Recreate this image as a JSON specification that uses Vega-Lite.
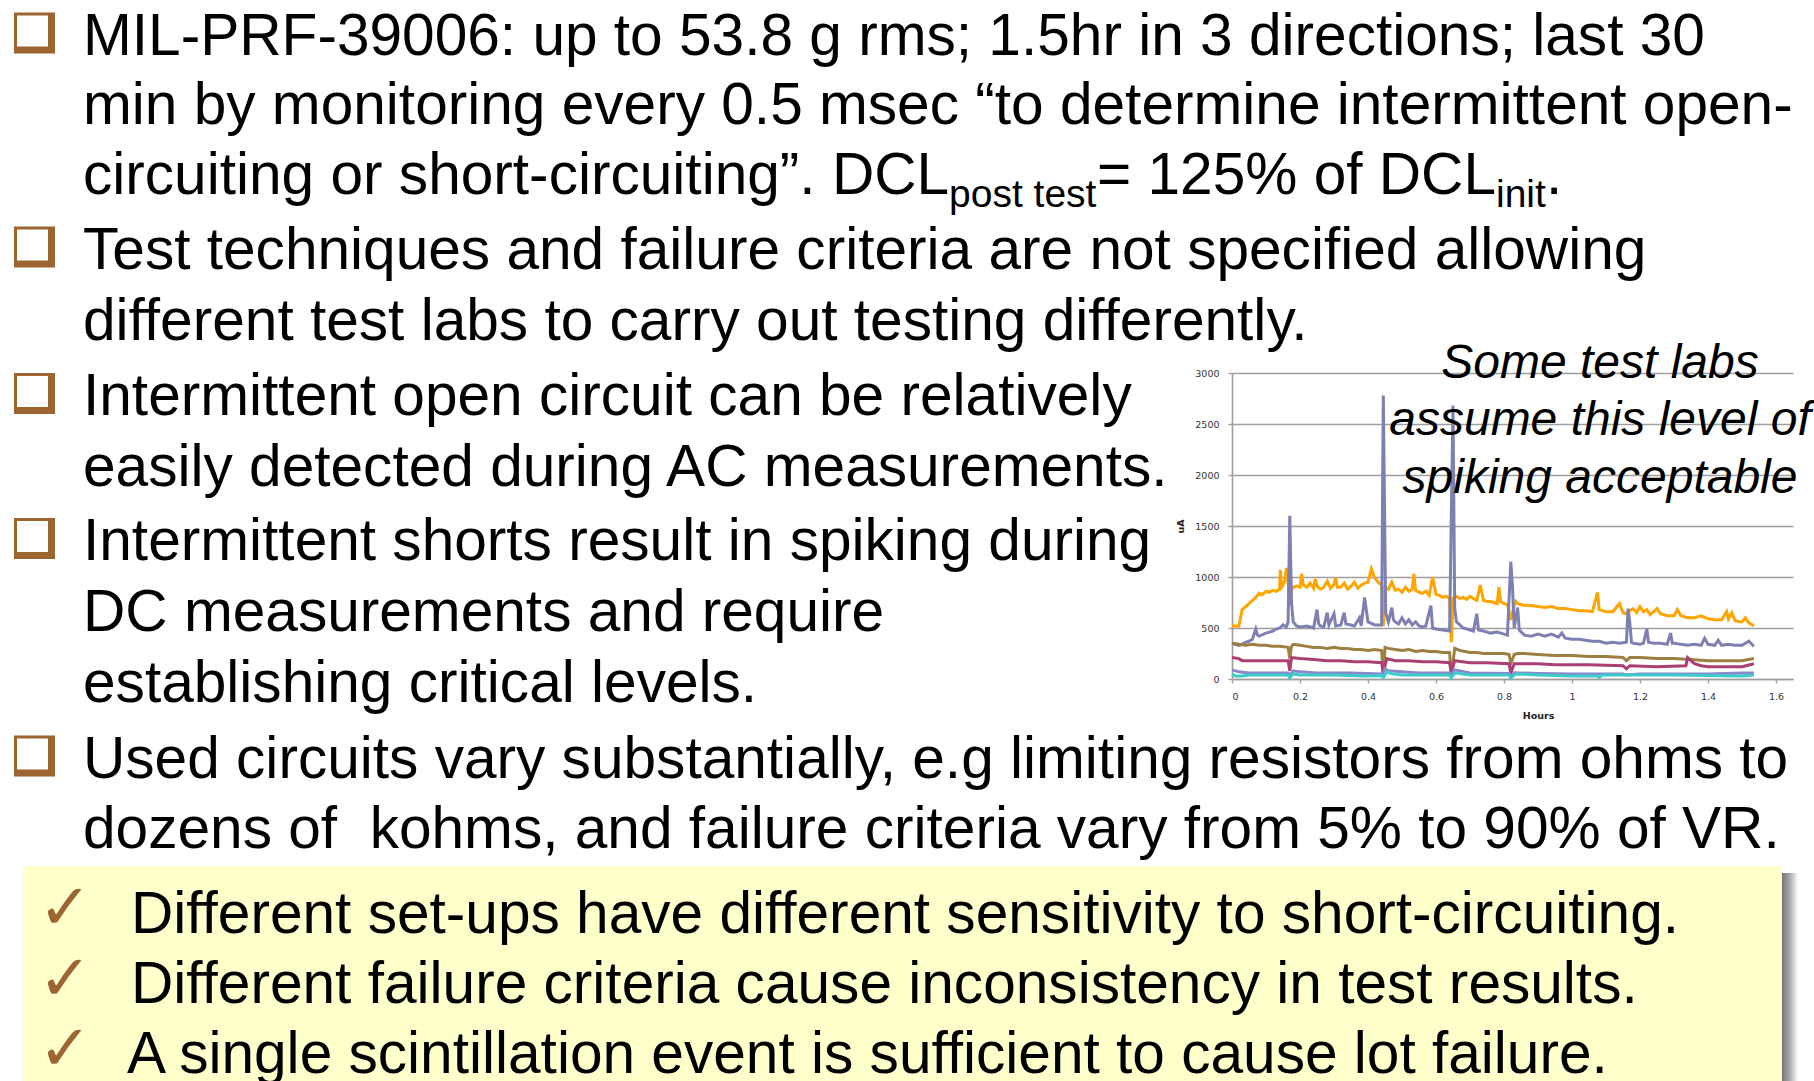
{
  "$schema": "https://vega.github.io/schema/vega-lite/v6.json",
  "width": 561,
  "height": 306,
  "autosize": {"type": "none"},
  "padding": {"left": 1232, "top": 373, "right": 21, "bottom": 402},
  "background": "white",
  "config": {"view": {"stroke": null}},
  "datasets": {
    "one": [{}],
    "series": [
      {"s":"o","h":0,"v":520},{"s":"o","h":0.02,"v":520},{"s":"o","h":0.025,"v":600},{"s":"o","h":0.03,"v":680},{"s":"o","h":0.04,"v":710},{"s":"o","h":0.05,"v":740},{"s":"o","h":0.06,"v":770},{"s":"o","h":0.07,"v":800},{"s":"o","h":0.08,"v":840},{"s":"o","h":0.09,"v":830},{"s":"o","h":0.1,"v":860},{"s":"o","h":0.11,"v":850},{"s":"o","h":0.12,"v":870},{"s":"o","h":0.13,"v":860},{"s":"o","h":0.14,"v":880},{"s":"o","h":0.142,"v":1070},{"s":"o","h":0.146,"v":900},{"s":"o","h":0.15,"v":920},{"s":"o","h":0.155,"v":960},{"s":"o","h":0.16,"v":1090},{"s":"o","h":0.165,"v":960},{"s":"o","h":0.17,"v":720},{"s":"o","h":0.175,"v":880},{"s":"o","h":0.18,"v":900},{"s":"o","h":0.19,"v":910},{"s":"o","h":0.2,"v":900},{"s":"o","h":0.205,"v":1030},{"s":"o","h":0.21,"v":920},{"s":"o","h":0.22,"v":900},{"s":"o","h":0.23,"v":940},{"s":"o","h":0.24,"v":890},{"s":"o","h":0.245,"v":980},{"s":"o","h":0.25,"v":910},{"s":"o","h":0.26,"v":880},{"s":"o","h":0.27,"v":900},{"s":"o","h":0.28,"v":960},{"s":"o","h":0.29,"v":890},{"s":"o","h":0.3,"v":930},{"s":"o","h":0.305,"v":990},{"s":"o","h":0.31,"v":900},{"s":"o","h":0.32,"v":900},{"s":"o","h":0.33,"v":940},{"s":"o","h":0.34,"v":880},{"s":"o","h":0.35,"v":910},{"s":"o","h":0.36,"v":950},{"s":"o","h":0.37,"v":890},{"s":"o","h":0.38,"v":920},{"s":"o","h":0.39,"v":940},{"s":"o","h":0.4,"v":950},{"s":"o","h":0.41,"v":1080},{"s":"o","h":0.42,"v":990},{"s":"o","h":0.43,"v":950},{"s":"o","h":0.44,"v":920},{"s":"o","h":0.445,"v":520},{"s":"o","h":0.45,"v":900},{"s":"o","h":0.46,"v":880},{"s":"o","h":0.47,"v":950},{"s":"o","h":0.48,"v":870},{"s":"o","h":0.49,"v":880},{"s":"o","h":0.5,"v":850},{"s":"o","h":0.51,"v":900},{"s":"o","h":0.52,"v":860},{"s":"o","h":0.53,"v":880},{"s":"o","h":0.535,"v":1030},{"s":"o","h":0.54,"v":870},{"s":"o","h":0.55,"v":850},{"s":"o","h":0.56,"v":840},{"s":"o","h":0.57,"v":860},{"s":"o","h":0.58,"v":820},{"s":"o","h":0.59,"v":1000},{"s":"o","h":0.6,"v":830},{"s":"o","h":0.61,"v":820},{"s":"o","h":0.62,"v":800},{"s":"o","h":0.63,"v":810},{"s":"o","h":0.64,"v":790},{"s":"o","h":0.645,"v":360},{"s":"o","h":0.65,"v":790},{"s":"o","h":0.66,"v":810},{"s":"o","h":0.67,"v":790},{"s":"o","h":0.68,"v":800},{"s":"o","h":0.69,"v":780},{"s":"o","h":0.7,"v":810},{"s":"o","h":0.71,"v":790},{"s":"o","h":0.72,"v":770},{"s":"o","h":0.73,"v":920},{"s":"o","h":0.74,"v":770},{"s":"o","h":0.75,"v":760},{"s":"o","h":0.76,"v":760},{"s":"o","h":0.77,"v":750},{"s":"o","h":0.78,"v":740},{"s":"o","h":0.785,"v":900},{"s":"o","h":0.79,"v":760},{"s":"o","h":0.8,"v":740},{"s":"o","h":0.81,"v":730},{"s":"o","h":0.82,"v":580},{"s":"o","h":0.83,"v":720},{"s":"o","h":0.835,"v":760},{"s":"o","h":0.84,"v":740},{"s":"o","h":0.85,"v":730},{"s":"o","h":0.86,"v":720},{"s":"o","h":0.88,"v":720},{"s":"o","h":0.9,"v":710},{"s":"o","h":0.92,"v":700},{"s":"o","h":0.94,"v":710},{"s":"o","h":0.96,"v":690},{"s":"o","h":0.98,"v":690},{"s":"o","h":1.0,"v":680},{"s":"o","h":1.02,"v":670},{"s":"o","h":1.04,"v":670},{"s":"o","h":1.06,"v":660},{"s":"o","h":1.075,"v":850},{"s":"o","h":1.08,"v":680},{"s":"o","h":1.1,"v":660},{"s":"o","h":1.12,"v":660},{"s":"o","h":1.14,"v":740},{"s":"o","h":1.15,"v":650},{"s":"o","h":1.16,"v":640},{"s":"o","h":1.17,"v":670},{"s":"o","h":1.18,"v":690},{"s":"o","h":1.19,"v":650},{"s":"o","h":1.2,"v":710},{"s":"o","h":1.21,"v":660},{"s":"o","h":1.22,"v":680},{"s":"o","h":1.23,"v":630},{"s":"o","h":1.25,"v":690},{"s":"o","h":1.26,"v":640},{"s":"o","h":1.28,"v":620},{"s":"o","h":1.3,"v":620},{"s":"o","h":1.31,"v":680},{"s":"o","h":1.32,"v":620},{"s":"o","h":1.34,"v":600},{"s":"o","h":1.36,"v":600},{"s":"o","h":1.38,"v":620},{"s":"o","h":1.4,"v":590},{"s":"o","h":1.42,"v":580},{"s":"o","h":1.44,"v":580},{"s":"o","h":1.455,"v":660},{"s":"o","h":1.46,"v":590},{"s":"o","h":1.47,"v":650},{"s":"o","h":1.48,"v":570},{"s":"o","h":1.5,"v":560},{"s":"o","h":1.51,"v":600},{"s":"o","h":1.52,"v":550},{"s":"o","h":1.535,"v":520},
      {"s":"b","h":0,"v":350},{"s":"b","h":0.02,"v":330},{"s":"b","h":0.03,"v":340},{"s":"b","h":0.04,"v":360},{"s":"b","h":0.05,"v":370},{"s":"b","h":0.06,"v":390},{"s":"b","h":0.07,"v":490},{"s":"b","h":0.075,"v":430},{"s":"b","h":0.08,"v":420},{"s":"b","h":0.1,"v":450},{"s":"b","h":0.11,"v":460},{"s":"b","h":0.12,"v":470},{"s":"b","h":0.13,"v":490},{"s":"b","h":0.14,"v":500},{"s":"b","h":0.15,"v":530},{"s":"b","h":0.16,"v":510},{"s":"b","h":0.165,"v":560},{"s":"b","h":0.17,"v":1600},{"s":"b","h":0.175,"v":750},{"s":"b","h":0.18,"v":560},{"s":"b","h":0.19,"v":520},{"s":"b","h":0.2,"v":510},{"s":"b","h":0.22,"v":520},{"s":"b","h":0.24,"v":500},{"s":"b","h":0.25,"v":680},{"s":"b","h":0.255,"v":540},{"s":"b","h":0.26,"v":520},{"s":"b","h":0.27,"v":510},{"s":"b","h":0.28,"v":650},{"s":"b","h":0.285,"v":530},{"s":"b","h":0.3,"v":640},{"s":"b","h":0.305,"v":520},{"s":"b","h":0.32,"v":530},{"s":"b","h":0.33,"v":650},{"s":"b","h":0.335,"v":540},{"s":"b","h":0.35,"v":530},{"s":"b","h":0.36,"v":520},{"s":"b","h":0.375,"v":600},{"s":"b","h":0.38,"v":520},{"s":"b","h":0.39,"v":800},{"s":"b","h":0.4,"v":560},{"s":"b","h":0.42,"v":530},{"s":"b","h":0.44,"v":530},{"s":"b","h":0.445,"v":2780},{"s":"b","h":0.452,"v":650},{"s":"b","h":0.46,"v":560},{"s":"b","h":0.47,"v":700},{"s":"b","h":0.475,"v":580},{"s":"b","h":0.48,"v":560},{"s":"b","h":0.49,"v":540},{"s":"b","h":0.5,"v":600},{"s":"b","h":0.51,"v":540},{"s":"b","h":0.52,"v":580},{"s":"b","h":0.53,"v":530},{"s":"b","h":0.54,"v":560},{"s":"b","h":0.55,"v":520},{"s":"b","h":0.56,"v":510},{"s":"b","h":0.57,"v":520},{"s":"b","h":0.585,"v":720},{"s":"b","h":0.59,"v":500},{"s":"b","h":0.6,"v":490},{"s":"b","h":0.62,"v":480},{"s":"b","h":0.64,"v":470},{"s":"b","h":0.65,"v":2680},{"s":"b","h":0.655,"v":700},{"s":"b","h":0.66,"v":560},{"s":"b","h":0.67,"v":530},{"s":"b","h":0.68,"v":500},{"s":"b","h":0.7,"v":480},{"s":"b","h":0.71,"v":470},{"s":"b","h":0.72,"v":640},{"s":"b","h":0.725,"v":480},{"s":"b","h":0.74,"v":470},{"s":"b","h":0.76,"v":450},{"s":"b","h":0.78,"v":460},{"s":"b","h":0.8,"v":440},{"s":"b","h":0.81,"v":430},{"s":"b","h":0.82,"v":1150},{"s":"b","h":0.825,"v":900},{"s":"b","h":0.83,"v":500},{"s":"b","h":0.84,"v":700},{"s":"b","h":0.845,"v":480},{"s":"b","h":0.86,"v":430},{"s":"b","h":0.88,"v":420},{"s":"b","h":0.9,"v":440},{"s":"b","h":0.92,"v":420},{"s":"b","h":0.94,"v":440},{"s":"b","h":0.96,"v":410},{"s":"b","h":0.97,"v":450},{"s":"b","h":0.98,"v":400},{"s":"b","h":1.0,"v":390},{"s":"b","h":1.02,"v":390},{"s":"b","h":1.04,"v":380},{"s":"b","h":1.06,"v":370},{"s":"b","h":1.08,"v":370},{"s":"b","h":1.1,"v":350},{"s":"b","h":1.12,"v":360},{"s":"b","h":1.14,"v":350},{"s":"b","h":1.16,"v":360},{"s":"b","h":1.165,"v":690},{"s":"b","h":1.17,"v":550},{"s":"b","h":1.175,"v":360},{"s":"b","h":1.18,"v":350},{"s":"b","h":1.2,"v":340},{"s":"b","h":1.21,"v":350},{"s":"b","h":1.22,"v":490},{"s":"b","h":1.225,"v":360},{"s":"b","h":1.24,"v":350},{"s":"b","h":1.26,"v":350},{"s":"b","h":1.28,"v":340},{"s":"b","h":1.29,"v":450},{"s":"b","h":1.295,"v":350},{"s":"b","h":1.3,"v":350},{"s":"b","h":1.32,"v":340},{"s":"b","h":1.34,"v":330},{"s":"b","h":1.36,"v":340},{"s":"b","h":1.38,"v":330},{"s":"b","h":1.39,"v":400},{"s":"b","h":1.4,"v":340},{"s":"b","h":1.42,"v":330},{"s":"b","h":1.43,"v":380},{"s":"b","h":1.44,"v":330},{"s":"b","h":1.46,"v":340},{"s":"b","h":1.48,"v":330},{"s":"b","h":1.5,"v":330},{"s":"b","h":1.52,"v":370},{"s":"b","h":1.535,"v":320},
      {"s":"w","h":0,"v":350},{"s":"w","h":0.02,"v":340},{"s":"w","h":0.04,"v":330},{"s":"w","h":0.06,"v":340},{"s":"w","h":0.08,"v":330},{"s":"w","h":0.1,"v":330},{"s":"w","h":0.12,"v":320},{"s":"w","h":0.14,"v":320},{"s":"w","h":0.165,"v":310},{"s":"w","h":0.17,"v":200},{"s":"w","h":0.175,"v":320},{"s":"w","h":0.18,"v":340},{"s":"w","h":0.2,"v":330},{"s":"w","h":0.22,"v":320},{"s":"w","h":0.24,"v":310},{"s":"w","h":0.26,"v":310},{"s":"w","h":0.28,"v":300},{"s":"w","h":0.3,"v":310},{"s":"w","h":0.32,"v":300},{"s":"w","h":0.34,"v":300},{"s":"w","h":0.36,"v":290},{"s":"w","h":0.38,"v":290},{"s":"w","h":0.4,"v":280},{"s":"w","h":0.42,"v":290},{"s":"w","h":0.44,"v":280},{"s":"w","h":0.445,"v":20},{"s":"w","h":0.45,"v":310},{"s":"w","h":0.46,"v":300},{"s":"w","h":0.48,"v":290},{"s":"w","h":0.5,"v":280},{"s":"w","h":0.52,"v":290},{"s":"w","h":0.54,"v":270},{"s":"w","h":0.56,"v":280},{"s":"w","h":0.58,"v":270},{"s":"w","h":0.6,"v":270},{"s":"w","h":0.62,"v":260},{"s":"w","h":0.64,"v":260},{"s":"w","h":0.645,"v":20},{"s":"w","h":0.655,"v":300},{"s":"w","h":0.67,"v":280},{"s":"w","h":0.7,"v":260},{"s":"w","h":0.72,"v":260},{"s":"w","h":0.74,"v":250},{"s":"w","h":0.76,"v":250},{"s":"w","h":0.8,"v":250},{"s":"w","h":0.815,"v":240},{"s":"w","h":0.82,"v":150},{"s":"w","h":0.83,"v":240},{"s":"w","h":0.84,"v":250},{"s":"w","h":0.86,"v":250},{"s":"w","h":0.9,"v":240},{"s":"w","h":0.95,"v":230},{"s":"w","h":1.0,"v":230},{"s":"w","h":1.05,"v":220},{"s":"w","h":1.1,"v":220},{"s":"w","h":1.15,"v":210},{"s":"w","h":1.16,"v":180},{"s":"w","h":1.17,"v":210},{"s":"w","h":1.2,"v":210},{"s":"w","h":1.25,"v":200},{"s":"w","h":1.3,"v":200},{"s":"w","h":1.35,"v":190},{"s":"w","h":1.4,"v":180},{"s":"w","h":1.45,"v":180},{"s":"w","h":1.5,"v":180},{"s":"w","h":1.535,"v":200},
      {"s":"m","h":0,"v":210},{"s":"m","h":0.02,"v":200},{"s":"m","h":0.03,"v":180},{"s":"m","h":0.06,"v":180},{"s":"m","h":0.1,"v":180},{"s":"m","h":0.13,"v":180},{"s":"m","h":0.165,"v":180},{"s":"m","h":0.17,"v":80},{"s":"m","h":0.175,"v":210},{"s":"m","h":0.2,"v":200},{"s":"m","h":0.24,"v":190},{"s":"m","h":0.28,"v":180},{"s":"m","h":0.32,"v":180},{"s":"m","h":0.36,"v":170},{"s":"m","h":0.4,"v":170},{"s":"m","h":0.44,"v":160},{"s":"m","h":0.445,"v":60},{"s":"m","h":0.455,"v":200},{"s":"m","h":0.48,"v":180},{"s":"m","h":0.52,"v":180},{"s":"m","h":0.56,"v":170},{"s":"m","h":0.6,"v":170},{"s":"m","h":0.64,"v":160},{"s":"m","h":0.645,"v":60},{"s":"m","h":0.655,"v":180},{"s":"m","h":0.7,"v":160},{"s":"m","h":0.75,"v":160},{"s":"m","h":0.815,"v":150},{"s":"m","h":0.82,"v":60},{"s":"m","h":0.83,"v":150},{"s":"m","h":0.9,"v":150},{"s":"m","h":0.95,"v":140},{"s":"m","h":1.05,"v":140},{"s":"m","h":1.15,"v":130},{"s":"m","h":1.16,"v":100},{"s":"m","h":1.17,"v":130},{"s":"m","h":1.25,"v":120},{"s":"m","h":1.335,"v":130},{"s":"m","h":1.34,"v":210},{"s":"m","h":1.36,"v":150},{"s":"m","h":1.38,"v":130},{"s":"m","h":1.4,"v":120},{"s":"m","h":1.5,"v":120},{"s":"m","h":1.535,"v":150},
      {"s":"p","h":0,"v":90},{"s":"p","h":0.02,"v":70},{"s":"p","h":0.05,"v":60},{"s":"p","h":0.1,"v":60},{"s":"p","h":0.165,"v":60},{"s":"p","h":0.17,"v":30},{"s":"p","h":0.18,"v":80},{"s":"p","h":0.2,"v":70},{"s":"p","h":0.25,"v":60},{"s":"p","h":0.35,"v":60},{"s":"p","h":0.44,"v":50},{"s":"p","h":0.445,"v":40},{"s":"p","h":0.45,"v":100},{"s":"p","h":0.46,"v":80},{"s":"p","h":0.5,"v":70},{"s":"p","h":0.55,"v":60},{"s":"p","h":0.64,"v":60},{"s":"p","h":0.645,"v":40},{"s":"p","h":0.655,"v":90},{"s":"p","h":0.7,"v":60},{"s":"p","h":0.815,"v":55},{"s":"p","h":0.82,"v":20},{"s":"p","h":0.83,"v":60},{"s":"p","h":0.9,"v":55},{"s":"p","h":1.0,"v":50},{"s":"p","h":1.15,"v":50},{"s":"p","h":1.16,"v":40},{"s":"p","h":1.2,"v":50},{"s":"p","h":1.4,"v":50},{"s":"p","h":1.5,"v":60},{"s":"p","h":1.535,"v":60},
      {"s":"c","h":0,"v":50},{"s":"c","h":0.01,"v":30},{"s":"c","h":0.03,"v":30},{"s":"c","h":0.05,"v":40},{"s":"c","h":0.165,"v":40},{"s":"c","h":0.17,"v":10},{"s":"c","h":0.18,"v":50},{"s":"c","h":0.2,"v":40},{"s":"c","h":0.3,"v":40},{"s":"c","h":0.39,"v":30},{"s":"c","h":0.44,"v":35},{"s":"c","h":0.445,"v":10},{"s":"c","h":0.455,"v":70},{"s":"c","h":0.47,"v":50},{"s":"c","h":0.5,"v":40},{"s":"c","h":0.64,"v":40},{"s":"c","h":0.645,"v":10},{"s":"c","h":0.655,"v":60},{"s":"c","h":0.7,"v":40},{"s":"c","h":0.815,"v":40},{"s":"c","h":0.82,"v":10},{"s":"c","h":0.835,"v":50},{"s":"c","h":0.9,"v":40},{"s":"c","h":1.0,"v":30},{"s":"c","h":1.075,"v":30},{"s":"c","h":1.08,"v":15},{"s":"c","h":1.09,"v":40},{"s":"c","h":1.2,"v":40},{"s":"c","h":1.3,"v":40},{"s":"c","h":1.4,"v":35},{"s":"c","h":1.5,"v":30},{"s":"c","h":1.535,"v":40}
    ]
  },
  "layer": [
    {"data": {"name": "one"}, "mark": {"type": "rect", "x": 549, "x2": 566, "y": 500, "y2": 720,
      "fill": {"gradient": "linear", "x1": 0, "y1": 0, "x2": 1, "y2": 0, "stops": [{"offset": 0, "color": "#6f6f6f"}, {"offset": 0.5, "color": "#a8a8a8"}, {"offset": 1, "color": "#ffffff"}]}}},
    {"data": {"name": "one"}, "mark": {"type": "rect", "x": -1209, "x2": 550, "y": 493, "y2": 720, "fill": "#FFFFCC"}},

    {"data": {"name": "one"}, "mark": {"type": "rect", "x": -1218, "x2": -1177, "y": -360.5, "y2": -319.5, "fill": "#9c6531"}},
    {"data": {"name": "one"}, "mark": {"type": "rect", "x": -1215, "x2": -1184, "y": -357.5, "y2": -326.5, "fill": "white"}},
    {"data": {"name": "one"}, "mark": {"type": "rect", "x": -1218, "x2": -1177, "y": -146.5, "y2": -105.5, "fill": "#9c6531"}},
    {"data": {"name": "one"}, "mark": {"type": "rect", "x": -1215, "x2": -1184, "y": -143.5, "y2": -112.5, "fill": "white"}},
    {"data": {"name": "one"}, "mark": {"type": "rect", "x": -1218, "x2": -1177, "y": 0, "y2": 41, "fill": "#9c6531"}},
    {"data": {"name": "one"}, "mark": {"type": "rect", "x": -1215, "x2": -1184, "y": 3, "y2": 34, "fill": "white"}},
    {"data": {"name": "one"}, "mark": {"type": "rect", "x": -1218, "x2": -1177, "y": 145, "y2": 186, "fill": "#9c6531"}},
    {"data": {"name": "one"}, "mark": {"type": "rect", "x": -1215, "x2": -1184, "y": 148, "y2": 179, "fill": "white"}},
    {"data": {"name": "one"}, "mark": {"type": "rect", "x": -1218, "x2": -1177, "y": 362.5, "y2": 403.5, "fill": "#9c6531"}},
    {"data": {"name": "one"}, "mark": {"type": "rect", "x": -1215, "x2": -1184, "y": 365.5, "y2": 396.5, "fill": "white"}},

    {"data": {"name": "one"}, "mark": {"type": "text", "x": -1149, "y": -318.5, "align": "left", "baseline": "alphabetic", "font": "Liberation Sans", "fontSize": 58.6, "lineHeight": 69.5, "color": "black",
      "text": ["MIL-PRF-39006: up to 53.8 g rms; 1.5hr in 3 directions; last 30", "min by monitoring every 0.5 msec “to determine intermittent open-"]}},
    {"data": {"name": "one"}, "mark": {"type": "text", "x": -1149, "y": -179.5, "align": "left", "baseline": "alphabetic", "font": "Liberation Sans", "fontSize": 58.6, "color": "black", "text": "circuiting or short-circuiting”. DCL"}},
    {"data": {"name": "one"}, "mark": {"type": "text", "x": -283, "y": -166, "align": "left", "baseline": "alphabetic", "font": "Liberation Sans", "fontSize": 39, "color": "black", "text": "post test"}},
    {"data": {"name": "one"}, "mark": {"type": "text", "x": -135, "y": -179.5, "align": "left", "baseline": "alphabetic", "font": "Liberation Sans", "fontSize": 58.6, "color": "black", "text": "= 125% of DCL"}},
    {"data": {"name": "one"}, "mark": {"type": "text", "x": 264, "y": -166, "align": "left", "baseline": "alphabetic", "font": "Liberation Sans", "fontSize": 39, "color": "black", "text": "init"}},
    {"data": {"name": "one"}, "mark": {"type": "text", "x": 314, "y": -179.5, "align": "left", "baseline": "alphabetic", "font": "Liberation Sans", "fontSize": 58.6, "color": "black", "text": "."}},
    {"data": {"name": "one"}, "mark": {"type": "text", "x": -1149, "y": -104.5, "align": "left", "baseline": "alphabetic", "font": "Liberation Sans", "fontSize": 58.6, "lineHeight": 71, "color": "black",
      "text": ["Test techniques and failure criteria are not specified allowing", "different test labs to carry out testing differently."]}},
    {"data": {"name": "one"}, "mark": {"type": "text", "x": -1149, "y": 42, "align": "left", "baseline": "alphabetic", "font": "Liberation Sans", "fontSize": 58.6, "lineHeight": 71, "color": "black",
      "text": ["Intermittent open circuit can be relatively", "easily detected during AC measurements."]}},
    {"data": {"name": "one"}, "mark": {"type": "text", "x": -1149, "y": 187, "align": "left", "baseline": "alphabetic", "font": "Liberation Sans", "fontSize": 58.6, "lineHeight": 71, "color": "black",
      "text": ["Intermittent shorts result in spiking during", "DC measurements and require", "establishing critical levels."]}},
    {"data": {"name": "one"}, "mark": {"type": "text", "x": -1149, "y": 404.5, "align": "left", "baseline": "alphabetic", "font": "Liberation Sans", "fontSize": 58.6, "lineHeight": 70.5, "color": "black",
      "text": ["Used circuits vary substantially, e.g limiting resistors from ohms to", "dozens of\u00a0 kohms, and failure criteria vary from 5% to 90% of VR."]}},
    {"data": {"name": "one"}, "mark": {"type": "text", "x": -1167, "y": 556, "align": "center", "baseline": "alphabetic", "font": "DejaVu Sans", "fontSize": 64, "lineHeight": 70.5, "color": "#9c6531",
      "text": ["✓", "✓", "✓"]}},
    {"data": {"name": "one"}, "mark": {"type": "text", "x": -1101, "y": 559.5, "align": "left", "baseline": "alphabetic", "font": "Liberation Sans", "fontSize": 58.6, "lineHeight": 70.5, "color": "black",
      "text": ["Different set-ups have different sensitivity to short-circuiting.", "Different failure criteria cause inconsistency in test results."]}},
    {"data": {"name": "one"}, "mark": {"type": "text", "x": -1105, "y": 700, "align": "left", "baseline": "alphabetic", "font": "Liberation Sans", "fontSize": 58.6, "color": "black",
      "text": "A single scintillation event is sufficient to cause lot failure."}},

    {
      "data": {"name": "series"},
      "mark": {"type": "line", "strokeWidth": 3, "interpolate": "linear"},
      "encoding": {
        "x": {"field": "h", "type": "quantitative",
          "scale": {"domain": [0, 1.65], "nice": false, "zero": false},
          "axis": {"values": [0, 0.2, 0.4, 0.6, 0.8, 1, 1.2, 1.4, 1.6], "format": "~g", "grid": false,
            "domainColor": "#9f9f9f", "domainWidth": 1.6, "tickColor": "#9f9f9f", "tickWidth": 1.4, "tickSize": 4,
            "labelFont": "DejaVu Sans", "labelFontSize": 9.5, "labelColor": "#333333", "labelPadding": 8,
            "title": "Hours", "titleFont": "DejaVu Sans", "titleFontSize": 9.5, "titleFontWeight": "bold", "titleColor": "#222222",
            "titleX": 306, "titleY": 31, "titleBaseline": "top"}},
        "y": {"field": "v", "type": "quantitative",
          "scale": {"domain": [0, 3000], "nice": false},
          "axis": {"values": [0, 500, 1000, 1500, 2000, 2500, 3000], "format": "d", "grid": true,
            "gridColor": "#9f9f9f", "gridWidth": 1.6,
            "domainColor": "#9f9f9f", "domainWidth": 1.6, "tickColor": "#9f9f9f", "tickWidth": 1.4, "tickSize": 4,
            "labelFont": "DejaVu Sans", "labelFontSize": 9.5, "labelColor": "#333333", "labelPadding": 9,
            "title": "uA", "titleFont": "DejaVu Sans", "titleFontSize": 9.5, "titleFontWeight": "bold", "titleColor": "#222222",
            "titleX": -52, "titleY": 153, "titleAngle": -90, "titleBaseline": "middle", "titleAlign": "center"}},
        "color": {"field": "s", "type": "nominal",
          "scale": {"domain": ["o", "b", "w", "m", "p", "c"], "range": ["#FFA500", "#7F80B2", "#9E7F42", "#AB3F74", "#8A88C8", "#3CCBCB"]},
          "legend": null}
      }
    },

    {"data": {"name": "one"}, "mark": {"type": "text", "x": 368, "y": 4.5, "align": "center", "baseline": "alphabetic", "font": "Liberation Sans", "fontStyle": "italic", "fontSize": 48, "lineHeight": 57.5, "color": "black",
      "text": ["Some test labs", "assume this level of", "spiking acceptable"]}}
  ]
}
